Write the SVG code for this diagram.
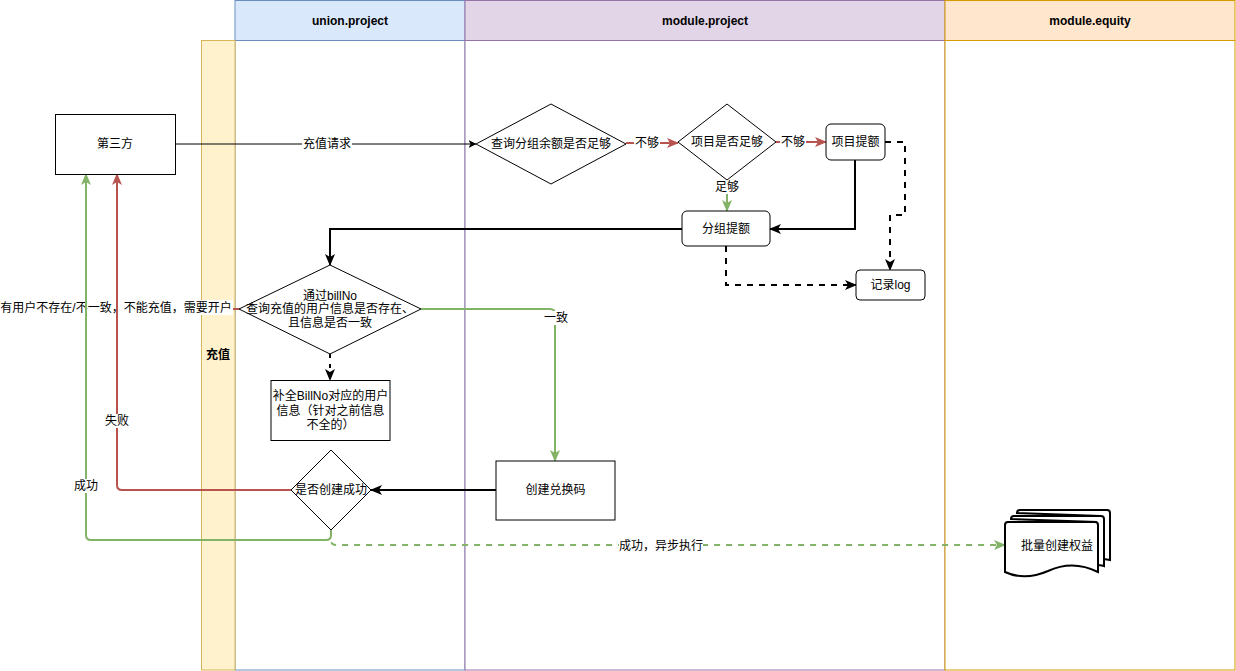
<svg xmlns="http://www.w3.org/2000/svg" width="1236" height="671" viewBox="0 0 1236 671">
<style>
text{font-family:"Liberation Sans","Noto Sans CJK SC",sans-serif;font-size:12px;fill:#000;text-anchor:middle}
.hdr{font-weight:bold}
.node{fill:#fff;stroke:#000;stroke-width:1}
.doc{fill:#fff;stroke:#000;stroke-width:2}
.e{fill:none;stroke-width:2}
.blk{stroke:#000}
.red{stroke:#b85450}
.grn{stroke:#82b366}
.dash{stroke-dasharray:6 6}
.lbl{fill:#fff}
</style>
<defs>
<marker id="aBlk" markerUnits="userSpaceOnUse" viewBox="0 0 12 10" refX="11" refY="5" markerWidth="12" markerHeight="10" orient="auto"><path d="M0,0 L12,5 L0,10 L3,5 Z" fill="#000"/></marker>
<marker id="aRed" markerUnits="userSpaceOnUse" viewBox="0 0 12 10" refX="11" refY="5" markerWidth="12" markerHeight="10" orient="auto"><path d="M0,0 L12,5 L0,10 L3,5 Z" fill="#b85450"/></marker>
<marker id="aGrn" markerUnits="userSpaceOnUse" viewBox="0 0 12 10" refX="11" refY="5" markerWidth="12" markerHeight="10" orient="auto"><path d="M0,0 L12,5 L0,10 L3,5 Z" fill="#82b366"/></marker>
<marker id="aThin" markerUnits="userSpaceOnUse" viewBox="0 0 8 8" refX="7.5" refY="4" markerWidth="8" markerHeight="8" orient="auto"><path d="M0,0 L8,4 L0,8 L2,4 Z" fill="#000"/></marker>
</defs>

<g id="lanes">
<rect x="235" y="0.5" width="230" height="40" fill="#dae8fc" stroke="#6c8ebf"/>
<rect x="235" y="40.5" width="230" height="629.5" fill="#fff" stroke="#6c8ebf"/>
<text class="hdr" x="350" y="25">union.project</text>
<rect x="465" y="0.5" width="480" height="40" fill="#e1d5e7" stroke="#9673a6"/>
<rect x="465" y="40.5" width="480" height="629.5" fill="#fff" stroke="#9673a6"/>
<text class="hdr" x="705" y="25">module.project</text>
<rect x="945" y="0.5" width="290" height="40" fill="#ffe6cc" stroke="#d79b00"/>
<rect x="945" y="40.5" width="290" height="629.5" fill="#fff" stroke="#d79b00"/>
<text class="hdr" x="1090" y="25">module.equity</text>
<rect x="201.5" y="40.5" width="33.5" height="629.5" fill="#fff2cc" stroke="#d6b656"/>
<text class="hdr" x="218" y="359">充值</text>
</g>

<g id="connectors">
<path class="e red" d="M239,309 L117,309"/>
<rect class="lbl" x="0" y="300" width="233" height="15"/>
<text x="116" y="312">有用户不存在/不一致，不能充值，需要开户</text>

<path d="M175,144 L476,144" fill="none" stroke="#000" stroke-width="1" marker-end="url(#aThin)"/>
<rect class="lbl" x="302" y="137" width="50" height="14"/>
<text x="327" y="148">充值请求</text>

<path class="e red" d="M626,143 L678,143" marker-end="url(#aRed)"/>
<rect class="lbl" x="634" y="136" width="26" height="14"/>
<text x="647" y="147">不够</text>

<path class="e red" d="M776,142 L826,142" marker-end="url(#aRed)"/>
<rect class="lbl" x="780" y="135" width="26" height="14"/>
<text x="793" y="146">不够</text>

<path class="e grn" d="M727,180 L727,211" marker-end="url(#aGrn)"/>
<rect class="lbl" x="714" y="180" width="26" height="14"/>
<text x="727" y="191">足够</text>

<path class="e blk" d="M855,160 L855,229 L770,229" marker-end="url(#aBlk)"/>
<path class="e blk dash" d="M885,142 L905,142 L905,215 L890,215 L890,270" marker-end="url(#aBlk)"/>
<path class="e blk dash" d="M726,246 L726,285 L856,285" marker-end="url(#aBlk)"/>
<path class="e blk" d="M682,229 L330,229 L330,265" marker-end="url(#aBlk)"/>
<path class="e blk" d="M330,354 L330,380" stroke-dasharray="4 6" marker-end="url(#aBlk)"/>

<path class="e grn" d="M421,309 L550,309 Q555,309 555,314 L555,461" marker-end="url(#aGrn)"/>
<rect class="lbl" x="543" y="311" width="26" height="14"/>
<text x="556" y="322">一致</text>

<path class="e blk" d="M496,490 L371,490" marker-end="url(#aBlk)"/>

<path class="e red" d="M291,490 L122,490 Q117,490 117,485 L117,174" marker-end="url(#aRed)"/>
<rect class="lbl" x="104" y="414" width="26" height="14"/>
<text x="117" y="425">失败</text>

<path class="e grn" d="M331,530 L331,535 Q331,540 326,540 L91,540 Q86,540 86,535 L86,174" marker-end="url(#aGrn)"/>
<rect class="lbl" x="73" y="479" width="26" height="14"/>
<text x="86" y="490">成功</text>

<path class="e grn dash" d="M331,530 L331,540 Q331,545 336,545 L1005,545" marker-end="url(#aGrn)"/>
<rect class="lbl" x="619" y="538" width="84" height="14"/>
<text x="661" y="550">成功，异步执行</text>
</g>

<g id="n-third">
<rect class="node" x="55.5" y="114.5" width="120" height="60"/>
<text x="115" y="148">第三方</text>
</g>
<g id="n-query-group">
<polygon class="node" points="476,144 551,104 626,144 551,184"/>
<text x="551" y="148">查询分组余额是否足够</text>
</g>
<g id="n-project-enough">
<polygon class="node" points="678,142 727,104 776,142 727,180"/>
<text x="727" y="146">项目是否足够</text>
</g>
<g id="n-project-raise">
<rect class="node" x="826" y="124" width="59" height="36" rx="5"/>
<text x="855.5" y="146">项目提额</text>
</g>
<g id="n-group-raise">
<rect class="node" x="682" y="211" width="88" height="35" rx="5"/>
<text x="726" y="233">分组提额</text>
</g>
<g id="n-log">
<rect class="node" x="856" y="270" width="69" height="30" rx="4"/>
<text x="890.5" y="289">记录log</text>
</g>
<g id="n-check-user">
<polygon class="node" points="239,309 330,265 421,309 330,354"/>
<text x="330" y="300">通过billNo</text>
<text x="330" y="313">查询充值的用户信息是否存在、</text>
<text x="330" y="327">且信息是否一致</text>
</g>
<g id="n-fill-user">
<rect class="node" x="271" y="380.5" width="119" height="60"/>
<text x="330.5" y="400">补全BillNo对应的用户</text>
<text x="330.5" y="415">信息（针对之前信息</text>
<text x="330.5" y="429">不全的）</text>
</g>
<g id="n-create-ok">
<polygon class="node" points="291,490 331,450 371,490 331,530"/>
<text x="331" y="494">是否创建成功</text>
</g>
<g id="n-create-code">
<rect class="node" x="496" y="461" width="119" height="59"/>
<text x="555.5" y="494">创建兑换码</text>
</g>
<g id="n-batch-equity">
<path class="doc" d="M1017,513 Q1017,510 1020,510 L1107,510 Q1110,510 1110,513 L1110,560 C1106,559 1103,559 1100,559 L1100,516 Z"/>
<path class="doc" d="M1011,519 Q1011,516 1014,516 L1101,516 Q1104,516 1104,519 L1104,566 C1101,565 1099,565 1096,565 L1096,522 Z"/>
<path class="doc" d="M1005,525 Q1005,522 1008,522 L1095,522 Q1098,522 1098,525 L1098,572 C1080,563 1063,564 1048,571 C1032,578 1018,578 1005,572 Z"/>
<text x="1057" y="550">批量创建权益</text>
</g>
</svg>
